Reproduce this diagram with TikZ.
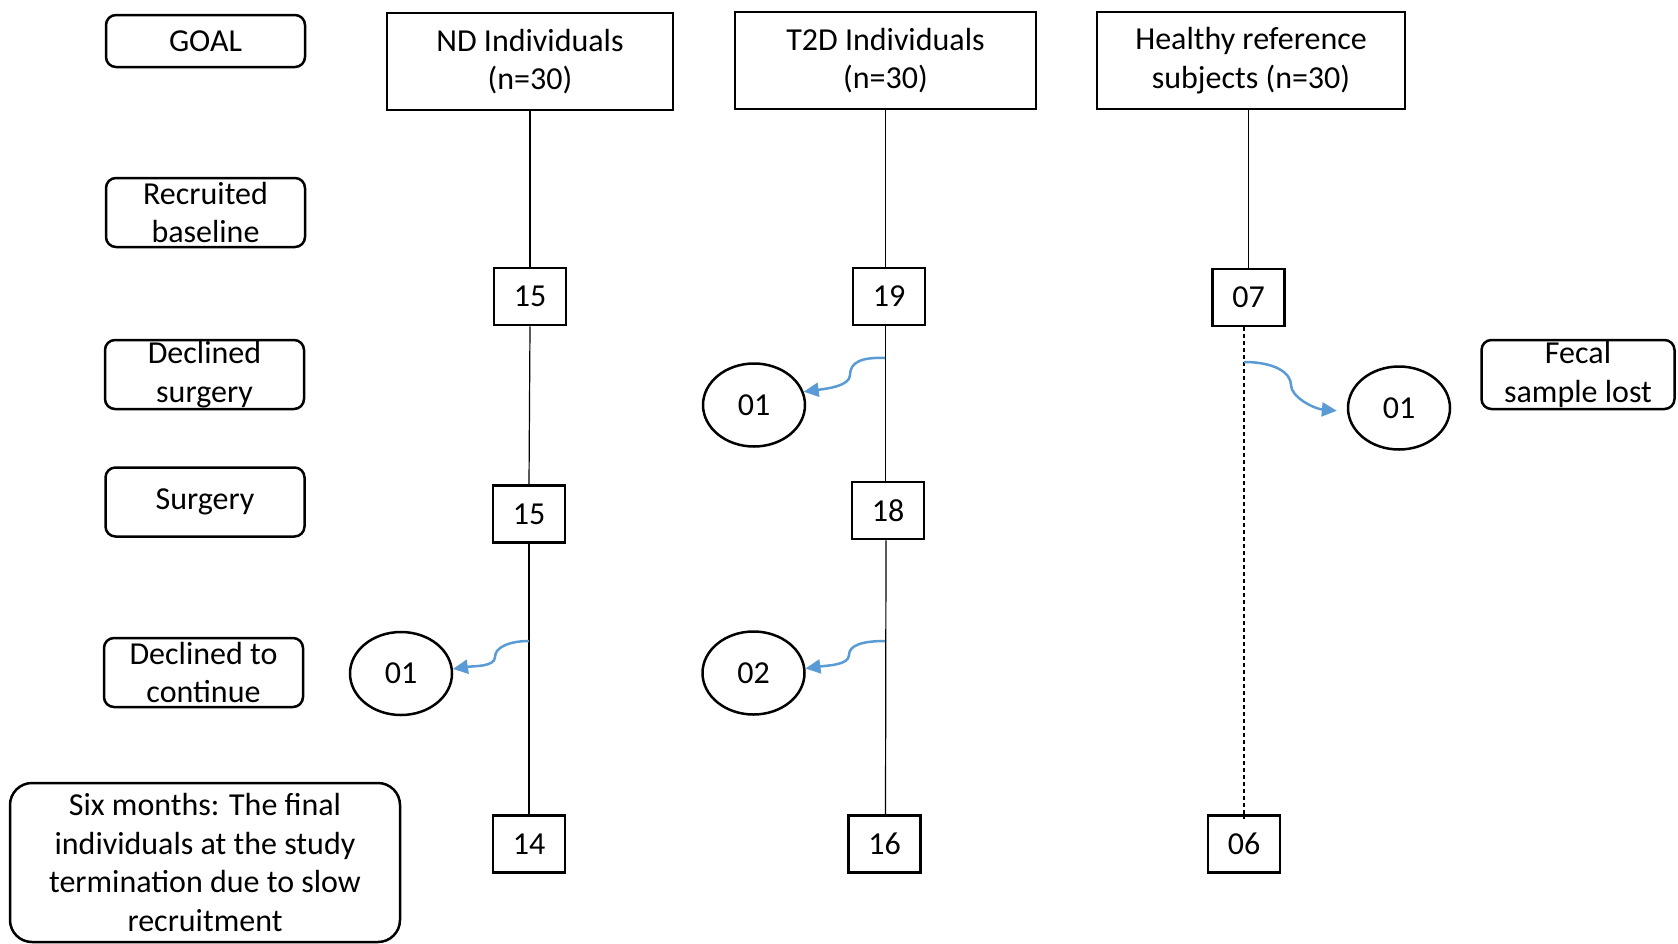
\documentclass[tikz,border=0pt]{standalone}
\usepackage{fontspec}
\setmainfont{Carlito}
\usetikzlibrary{arrows.meta,shapes.geometric}
\definecolor{arrowblue}{HTML}{5B9BD5}
\begin{document}
\begin{tikzpicture}[x=1pt,y=-1pt,
  txt/.style={font=\fontsize{32}{38.5}\selectfont},
  lbl/.style={txt, draw, line width=2.5pt, rounded corners=10pt, minimum width=199pt, minimum height=69pt, inner sep=0pt, align=center},
  head/.style={txt, draw, line width=2.5pt, minimum height=97pt, inner sep=0pt, align=center},
  num/.style={txt, draw, line width=2.5pt, minimum width=72pt, minimum height=57pt, inner sep=0pt},
  drop/.style={txt, draw, ellipse, line width=2.5pt, minimum width=102pt, minimum height=83pt, inner sep=0pt},
  flow/.style={line width=1.2pt},
  loss/.style={draw=arrowblue, line width=2.5pt, -{Triangle[length=15pt,width=14pt]}},
]
\useasboundingbox (0,0) rectangle (1678,943);

% left labels
\node[lbl, minimum height=52pt] (goal) at (205.5,41) {GOAL};
\node[lbl] (recr) at (205.5,212.5) {Recruited\\baseline};
\node[lbl] (decs) at (204.5,374.5) {Declined\\surgery};
\node[lbl] (surg) at (205,502) {Surgery};
\node[lbl] (decc) at (203.5,672.5) {Declined to\\continue};
\node[lbl, minimum width=390pt, minimum height=159pt, rounded corners=22pt] (six) at (205,862.5) {Six months: The final\\individuals at the study\\termination due to slow\\recruitment};
\node[lbl, minimum width=193pt] (fecal) at (1578,374.5) {Fecal\\sample lost};

% column heads
\node[head, minimum width=286pt] (nd) at (530,61.5) {ND Individuals\\(n=30)};
\node[head, minimum width=301pt] (t2d) at (885.5,60.5) {T2D Individuals\\(n=30)};
\node[head, minimum width=308pt] (hl) at (1251,60.5) {Healthy reference\\subjects (n=30)};

% count boxes
\node[num] (a1) at (530,296.5) {15};
\node[num] (a2) at (529,514) {15};
\node[num] (a3) at (529,844) {14};
\node[num] (b1) at (889,296.5) {19};
\node[num] (b2) at (888,510.5) {18};
\node[num] (b3) at (884.5,844) {16};
\node[num] (c1) at (1248.5,297.5) {07};
\node[num] (c3) at (1244,844) {06};

% drop-outs
\node[drop] (e1) at (754,405) {01};
\node[drop] (e2) at (1399,408) {01};
\node[drop] (e3) at (401,673.5) {01};
\node[drop] (e4) at (753.5,673) {02};

% vertical flow lines
\draw[flow] (nd.south) -- (a1.north);
\draw[flow] (a1.south) -- (a2.north);
\draw[flow] (a2.south) -- (a3.north);
\draw[flow] (t2d.south) -- (t2d.south |- b1.north);
\draw[flow] (t2d.south |- b1.south) -- (t2d.south |- b2.north);
\draw[flow] ([xshift=-2pt]b2.south) -- ([xshift=1pt]b3.north);
\draw[flow] (hl.south -| c1.north) -- (c1.north);
\draw[flow, dashed, dash pattern=on 4pt off 3pt] (c3.north |- c1.south) -- ([yshift=-5pt]c3.north);

% loss arrows
\coordinate (s1) at (885,358);
\coordinate (s2) at (1244,362);
\coordinate (s3) at (529,641);
\coordinate (s4) at (885,641);
\draw[loss] (s1) .. controls +(-23,-1) and +(0,-13) .. (850,375) .. controls +(0,11) and +(23,-3) .. (e1.15);
\draw[loss] (s2) .. controls +(31,0) and +(0,-12) .. (1291,385) .. controls +(0,12) and +(-23,-2) .. ([xshift=-10pt]e2.183);
\draw[loss] (s3) .. controls +(-19,0) and +(0,-10) .. (495,657) .. controls +(0,10) and +(20,-3) .. (e3.5);
\draw[loss] (s4) .. controls +(-22,0) and +(0,-10) .. (849,655) .. controls +(0,10) and +(22,-3) .. (e4.5);
\end{tikzpicture}
\end{document}
